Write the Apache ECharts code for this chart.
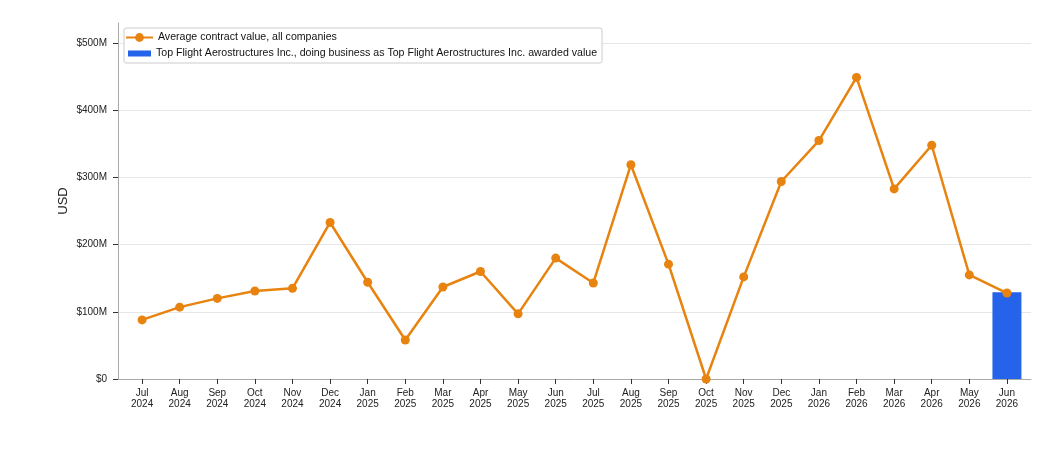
<!DOCTYPE html>
<html><head><meta charset="utf-8">
<script src="https://cdn.jsdelivr.net/npm/echarts@6/dist/echarts.min.js"></script>
<style>html,body{margin:0;padding:0;background:#fff}#c{width:1056px;height:460px}</style>
</head><body><div id="c"></div>
<script>
const categories = ["Jul\n2024","Aug\n2024","Sep\n2024","Oct\n2024","Nov\n2024","Dec\n2024","Jan\n2025","Feb\n2025","Mar\n2025","Apr\n2025","May\n2025","Jun\n2025","Jul\n2025","Aug\n2025","Sep\n2025","Oct\n2025","Nov\n2025","Dec\n2025","Jan\n2026","Feb\n2026","Mar\n2026","Apr\n2026","May\n2026","Jun\n2026"];
const avgValues = [88e6,107e6,120e6,131e6,135e6,233e6,144e6,58e6,137e6,160e6,97e6,180e6,143e6,319e6,171e6,0,152e6,294e6,355e6,449e6,283e6,348e6,155e6,128e6];
const barCategories = ["Jun\n2026"];
const barValues = [129e6];
const yTicks = [0,100e6,200e6,300e6,400e6,500e6];

const lineName = 'Average contract value, all companies';
const barName = 'Top Flight Aerostructures Inc., doing business as Top Flight Aerostructures Inc. awarded value';
const font = "Liberation Sans, Arial, sans-serif";
const chart = echarts.init(document.getElementById('c'));
const idx = categories.map((_, i) => i);
const legendText = {fontSize: 10.6, color: '#111', fontFamily: font, lineHeight: 13};
chart.setOption({
  animation: false,
  textStyle: {fontFamily: font},
  grid: {left: 118, right: 25, top: 23, bottom: 81, containLabel: false},
  legend: [
    {
      orient: 'vertical', left: 124, top: 28, z: 4,
      backgroundColor: '#fff', borderColor: '#cccccc', borderWidth: 1, borderRadius: 2,
      padding: [19, 5, 3, 4], itemWidth: 23, itemHeight: 6,
      textStyle: legendText,
      data: [{name: barName, icon: 'rect'}]
    },
    {
      orient: 'vertical', left: 125, top: 31, z: 6,
      padding: 0, itemWidth: 27, itemHeight: 11,
      textStyle: legendText,
      data: [{name: lineName}]
    }
  ],
  xAxis: {
    type: 'value', min: -0.64, max: 23.64,
    axisLine: {show: true, onZero: false, lineStyle: {color: '#aaaaaa', width: 1}},
    axisTick: {show: true, customValues: idx, length: 5, lineStyle: {color: '#333'}},
    axisLabel: {customValues: idx, formatter: v => categories[Math.round(v)], fontSize: 10, color: '#222', lineHeight: 10.5, margin: 9, fontFamily: font},
    splitLine: {show: false}
  },
  yAxis: {
    type: 'value', min: 0, max: 530e6,
    name: 'USD', nameLocation: 'middle', nameGap: 48, nameRotate: 90, nameMoveOverlap: false,
    nameTextStyle: {fontSize: 13, color: '#222', fontFamily: font},
    axisLine: {show: true, onZero: false, lineStyle: {color: '#aaaaaa'}},
    axisTick: {show: true, customValues: yTicks, length: 5, lineStyle: {color: '#333'}},
    axisLabel: {customValues: yTicks, formatter: v => '$' + (v === 0 ? '0' : (v / 1e6) + 'M'), fontSize: 10, color: '#222', margin: 11, fontFamily: font},
    splitLine: {show: true, lineStyle: {color: '#e6e6e6', width: 1}},
    interval: 100e6
  },
  series: [
    {
      name: barName,
      type: 'bar', barWidth: 29, z: 1,
      itemStyle: {color: '#2563eb'},
      data: barCategories.map((c, i) => [categories.indexOf(c), barValues[i]])
    },
    {
      name: lineName,
      type: 'line', z: 3,
      symbol: 'circle', symbolSize: 9,
      lineStyle: {color: '#e8830f', width: 2.5},
      itemStyle: {color: '#e8830f'},
      data: avgValues.map((v, i) => [i, v])
    }
  ]
});
</script></body></html>
